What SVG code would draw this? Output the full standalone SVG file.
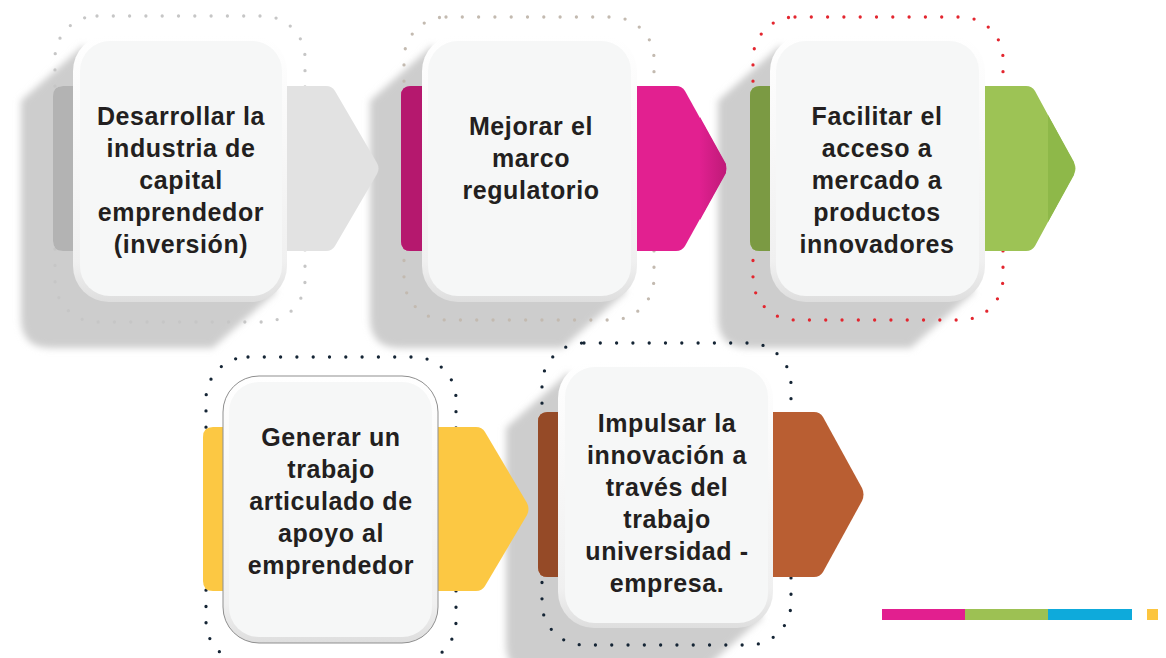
<svg xmlns="http://www.w3.org/2000/svg" width="1166" height="658" viewBox="0 0 1166 658">
<style>
.t{font-family:"Liberation Sans",Arial,sans-serif;font-weight:bold;font-size:25px;letter-spacing:0.6px;fill:#231f20;text-anchor:middle}
.ring{fill:none;stroke-width:3.3;stroke-linecap:round;stroke-dasharray:0 16.3}
.rim{fill:url(#rimG)}
.face{fill:#f6f7f7}
.sh{fill:#cdcdcd;filter:url(#blur)}
</style>
<defs>
<linearGradient id="rimG" x1="0" y1="0" x2="0" y2="1">
<stop offset="0" stop-color="#ffffff"/>
<stop offset="0.85" stop-color="#f0f0f0"/>
<stop offset="1" stop-color="#dedede"/>
</linearGradient>
<linearGradient id="tipM" x1="0" y1="0" x2="1" y2="0">
<stop offset="0" stop-color="#e02090"/>
<stop offset="1" stop-color="#bf1a78"/>
</linearGradient>
<filter id="blur" x="-10%" y="-10%" width="120%" height="120%">
<feGaussianBlur stdDeviation="3.5"/>
</filter>
</defs>

<g id="shadows">
<path class="sh" d="M83.5,45.5 L21,100.8 L21,318 Q21,348 51,348 L212.6,348 L276.5,291.5 Z"/>
<path class="sh" d="M432.5,45.5 L370,100.8 L370,318 Q370,348 400,348 L562.6,348 L626.5,291.5 Z"/>
<path class="sh" d="M780.5,45.5 L718,100.8 L718,318 Q718,348 748,348 L910.6,348 L974.5,291.5 Z"/>
<path class="sh" d="M568.5,372.5 L506,427.8 L506,644 Q506,674 536,674 L698.6,674 L762.5,617.5 Z"/>
</g>

<g id="rings">
<rect class="ring" x="55" y="16" width="250" height="306" rx="42" stroke="#c6c6c6"/>
<rect class="ring" x="404" y="17" width="250" height="303" rx="42" stroke="#c3bab0"/>
<rect class="ring" x="753" y="17" width="250" height="303" rx="42" stroke="#e3262f"/>
<rect class="ring" x="206" y="357" width="250" height="306" rx="42" stroke="#152535"/>
<rect class="ring" x="542" y="343" width="249" height="302" rx="42" stroke="#152535"/>
</g>

<g id="connectors">
<g id="band1">
<path d="M63,86 L326,86 Q332,86 335,91 L377,163 Q380,168.5 377,174 L335,246 Q332,251 326,251 L63,251 Q53,251 53,241 L53,96 Q53,86 63,86 Z" fill="#e2e2e2"/>
<path d="M63,86 L78,86 L78,251 L63,251 Q53,251 53,241 L53,96 Q53,86 63,86 Z" fill="#b3b3b3"/>
</g>
<g id="band2">
<path d="M411,86 L676,86 Q682,86 685,91 L725,163 Q728,168.5 725,174 L685,246 Q682,251 676,251 L411,251 Q401,251 401,241 L401,96 Q401,86 411,86 Z" fill="#e22090"/>
<polygon points="700,117 726,164 726,173 700,220" fill="url(#tipM)"/>
<path d="M411,86 L427,86 L427,251 L411,251 Q401,251 401,241 L401,96 Q401,86 411,86 Z" fill="#b5186e"/>
</g>
<g id="band3">
<path d="M760,86 L1026,86 Q1032,86 1035,91 L1074,163 Q1077,168.5 1074,174 L1035,246 Q1032,251 1026,251 L760,251 Q750,251 750,241 L750,96 Q750,86 760,86 Z" fill="#9dc355"/>
<polygon points="1048,115 1074,162 1075,168.5 1074,175 1048,222" fill="#8eb849"/>
<path d="M760,86 L775,86 L775,251 L760,251 Q750,251 750,241 L750,96 Q750,86 760,86 Z" fill="#7b9a43"/>
</g>
<g id="band4">
<path d="M213,427 L476,427 Q482,427 485,432 L527,503 Q530,509 527,515 L485,586 Q482,591 476,591 L213,591 Q203,591 203,581 L203,437 Q203,427 213,427 Z" fill="#fcc843"/>
</g>
<g id="band5">
<path d="M548,412 L814,412 Q820,412 823,417 L862,488 Q865,494.5 862,501 L823,572 Q820,577 814,577 L548,577 Q538,577 538,567 L538,422 Q538,412 548,412 Z" fill="#b95e32"/>
<path d="M548,412 L563,412 L563,577 L548,577 Q538,577 538,567 L538,422 Q538,412 548,412 Z" fill="#954a27"/>
</g>
</g>

<g id="node1">
<rect class="rim" x="73" y="35" width="214" height="267" rx="36"/>
<rect class="face" x="80" y="41" width="202" height="255" rx="30"/>
<text class="t" x="181" y="125">Desarrollar la</text>
<text class="t" x="181" y="157">industria de</text>
<text class="t" x="181" y="189">capital</text>
<text class="t" x="181" y="221">emprendedor</text>
<text class="t" x="181" y="253">(inversión)</text>
</g>

<g id="node2">
<rect class="rim" x="422" y="35" width="215" height="267" rx="36"/>
<rect class="face" x="428" y="41" width="203" height="255" rx="30"/>
<text class="t" x="531" y="135">Mejorar el</text>
<text class="t" x="531" y="167">marco</text>
<text class="t" x="531" y="199">regulatorio</text>
</g>

<g id="node3">
<rect class="rim" x="770" y="35" width="215" height="267" rx="36"/>
<rect class="face" x="776" y="41" width="203" height="255" rx="30"/>
<text class="t" x="877" y="124.5">Facilitar el</text>
<text class="t" x="877" y="156.5">acceso a</text>
<text class="t" x="877" y="188.5">mercado a</text>
<text class="t" x="877" y="220.5">productos</text>
<text class="t" x="877" y="252.5">innovadores</text>
</g>

<g id="node4">
<rect class="rim" x="223" y="376" width="215" height="267" rx="36" stroke="#8f8f8f" stroke-width="1"/>
<rect class="face" x="229" y="382" width="203" height="255" rx="30"/>
<text class="t" x="331" y="446">Generar un</text>
<text class="t" x="331" y="478">trabajo</text>
<text class="t" x="331" y="510">articulado de</text>
<text class="t" x="331" y="542">apoyo al</text>
<text class="t" x="331" y="574">emprendedor</text>
</g>

<g id="node5">
<rect class="rim" x="558" y="362" width="215" height="266" rx="36"/>
<rect class="face" x="565" y="367" width="203" height="256" rx="30"/>
<text class="t" x="667" y="432">Impulsar la</text>
<text class="t" x="667" y="464">innovación a</text>
<text class="t" x="667" y="496">través del</text>
<text class="t" x="667" y="528">trabajo</text>
<text class="t" x="667" y="560">universidad -</text>
<text class="t" x="667" y="592">empresa.</text>
</g>

<g id="colorbar">
<rect x="882" y="609" width="83" height="11" fill="#e21f8f"/>
<rect x="965" y="609" width="83" height="11" fill="#9dc153"/>
<rect x="1048" y="609" width="84" height="11" fill="#0eaadb"/>
<rect x="1147" y="609" width="11" height="11" fill="#fcc53f"/>
</g>
</svg>
